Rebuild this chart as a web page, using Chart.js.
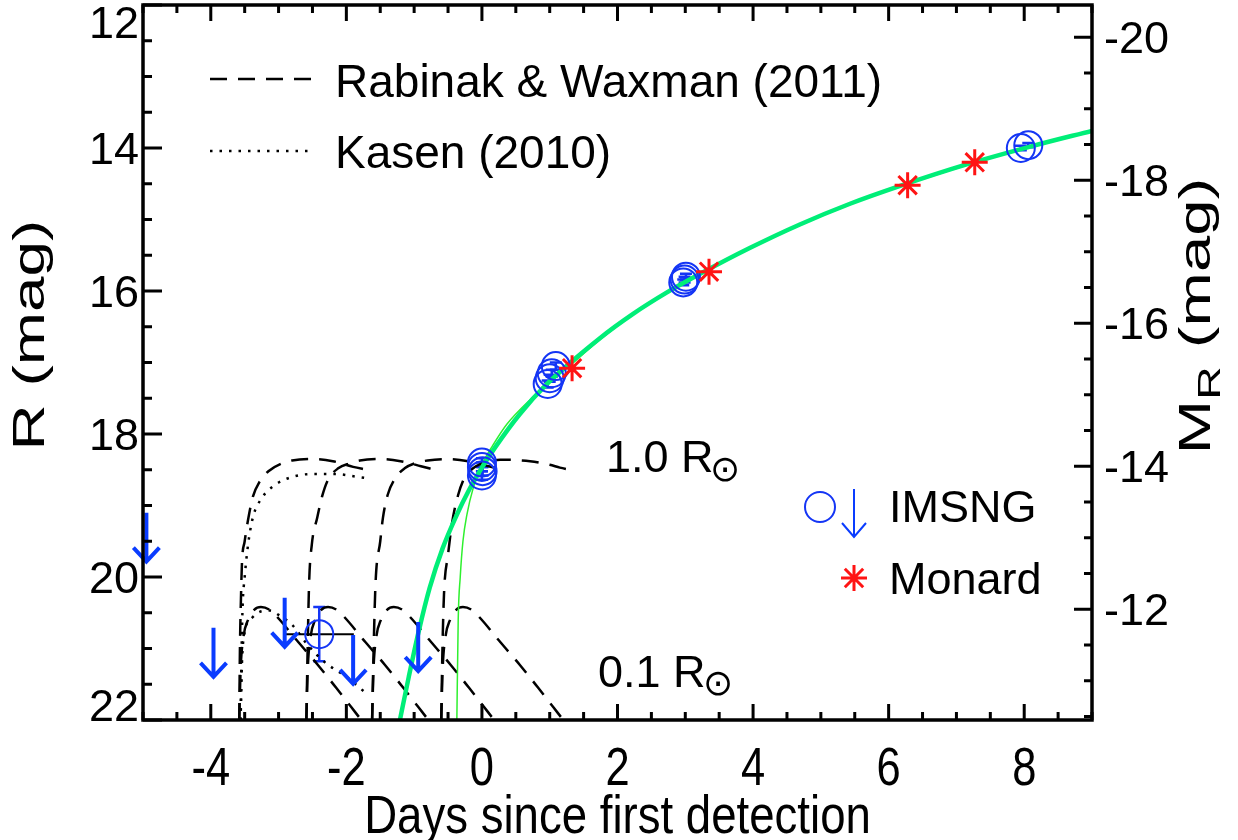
<!DOCTYPE html>
<html>
<head>
<meta charset="utf-8">
<title>R-band light curve</title>
<script src="https://cdn.jsdelivr.net/npm/chart.js@4.4.0/dist/chart.umd.min.js"></script>
<style>
  html, body { margin: 0; padding: 0; background: #fff; }
  #wrap { width: 1238px; height: 840px; }
</style>
</head>
<body>
<div id="wrap"><canvas id="lc" width="1238" height="840"></canvas></div>
<script>
// ---- data ----
// axis ticks
const xTickLabels = [-4, -2, 0, 2, 4, 6, 8];
const yTickLabels = [12, 14, 16, 18, 20, 22];
const absTickLabels = [-20, -18, -16, -14, -12];
const distMod = 32.45;

// IMSNG detections (days, R mag, error)
const imsngDays = [-2.40, 0.00, 0.00, 0.01, 0.00, 0.97, 1.00, 1.03, 1.09, 2.97, 2.99, 3.01, 7.95, 8.06];
const imsngMag  = [20.80, 18.40, 18.46, 18.52, 18.58, 17.30, 17.22, 17.15, 17.05, 15.88, 15.84, 15.80, 14.00, 13.96];
const imsngErr  = [0.38, 0.06, 0.06, 0.06, 0.06, 0.05, 0.05, 0.05, 0.05, 0.04, 0.04, 0.04, 0.03, 0.03];
const imsngDayErr = [0.51, 0, 0, 0, 0, 0, 0, 0, 0, 0, 0, 0, 0, 0];

// IMSNG upper limits
const limitDays = [-4.95, -3.96, -2.91, -1.90, -0.94];
const limitMag  = [19.10, 20.71, 20.29, 20.81, 20.63];

// Monard
const monardDays = [1.33, 3.35, 6.28, 7.27];
const monardMag  = [17.08, 15.73, 14.52, 14.20];

// fits (green)
const fitThick = [[-1.21, 22.0], [-1.08, 21.4], [-0.93, 20.75], [-0.77, 20.15], [-0.58, 19.6], [-0.37, 19.13],
  [-0.2, 18.8], [0.0, 18.47], [0.2, 18.18], [0.56, 17.72], [0.96, 17.3], [1.74, 16.66], [2.23, 16.32],
  [2.73, 16.02], [3.22, 15.76], [3.95, 15.4], [4.69, 15.07], [5.43, 14.78], [6.17, 14.53], [7.15, 14.23],
  [8.13, 13.97], [9.0, 13.76]];
const fitThin = [[-0.37, 22.0], [-0.35, 20.6], [-0.32, 20.0], [-0.28, 19.5], [-0.22, 19.12], [-0.13, 18.76],
  [0.0, 18.43], [0.16, 18.16], [0.37, 17.86], [0.71, 17.52], [0.96, 17.31], [1.4, 16.96], [1.74, 16.68],
  [2.23, 16.33], [2.73, 16.03], [3.22, 15.77], [3.95, 15.41], [4.69, 15.08], [5.43, 14.79], [6.17, 14.54],
  [7.15, 14.24], [8.13, 13.98], [9.0, 13.77]];

// Rabinak & Waxman, 1.0 Rsun
const rw10A = [[-3.58, 22.0], [-3.57, 21.0], [-3.555, 20.3], [-3.54, 19.8], [-3.5, 19.5], [-3.45, 19.2], [-3.38, 18.88],
  [-3.27, 18.65], [-3.15, 18.52], [-2.95, 18.41], [-2.8, 18.37], [-2.5, 18.35], [-2.2, 18.38], [-1.9, 18.46], [-1.7, 18.5]];
const rw10B = [[-2.59, 22.0], [-2.575, 21.2], [-2.55, 20.1], [-2.51, 19.55], [-2.43, 19.17], [-2.36, 18.88], [-2.27, 18.64],
  [-2.12, 18.48], [-1.95, 18.41], [-1.8, 18.37], [-1.5, 18.35], [-1.2, 18.38], [-0.9, 18.45], [-0.7, 18.5]];
const rw10C = [[-1.62, 22.0], [-1.6, 21.1], [-1.57, 20.1], [-1.5, 19.5], [-1.46, 19.17], [-1.39, 18.85], [-1.28, 18.62],
  [-1.14, 18.48], [-0.99, 18.41], [-0.8, 18.37], [-0.5, 18.35], [-0.2, 18.38], [0.1, 18.45], [0.3, 18.5]];
const rw10D = [[-0.6, 22.0], [-0.585, 21.13], [-0.56, 20.25], [-0.5, 19.69], [-0.44, 19.24], [-0.35, 18.85], [-0.25, 18.6],
  [-0.13, 18.48], [0.0, 18.41], [0.27, 18.36], [0.71, 18.38], [1.0, 18.43], [1.15, 18.47], [1.3, 18.5]];

// Rabinak & Waxman, 0.1 Rsun
const rw01A = [[-3.58, 22.0], [-3.56, 21.3], [-3.52, 20.85], [-3.45, 20.6], [-3.36, 20.46], [-3.26, 20.42], [-3.13, 20.46],
  [-3.01, 20.57], [-2.71, 20.91], [-2.42, 21.23], [-2.15, 21.55], [-1.87, 21.89], [-1.78, 22.0]];
const rw01B = [[-2.59, 22.0], [-2.57, 21.3], [-2.53, 20.85], [-2.46, 20.6], [-2.37, 20.46], [-2.27, 20.42], [-2.14, 20.46],
  [-2.02, 20.57], [-1.72, 20.91], [-1.43, 21.23], [-1.16, 21.55], [-0.88, 21.89], [-0.79, 22.0]];
const rw01C = [[-1.62, 22.0], [-1.6, 21.3], [-1.56, 20.85], [-1.49, 20.6], [-1.4, 20.46], [-1.3, 20.42], [-1.17, 20.46],
  [-1.05, 20.57], [-0.75, 20.91], [-0.46, 21.23], [-0.19, 21.55], [0.09, 21.89], [0.18, 22.0]];
const rw01D = [[-0.6, 22.0], [-0.58, 21.3], [-0.54, 20.85], [-0.47, 20.6], [-0.38, 20.46], [-0.28, 20.42], [-0.15, 20.46],
  [-0.03, 20.57], [0.27, 20.91], [0.56, 21.23], [0.83, 21.55], [1.11, 21.89], [1.2, 22.0]];

// Kasen (2010)
const kasenHigh = [[-3.56, 22.0], [-3.545, 21.0], [-3.53, 20.4], [-3.5, 20.0], [-3.45, 19.55], [-3.38, 19.17], [-3.25, 18.9],
  [-3.05, 18.71], [-2.8, 18.6], [-2.51, 18.56], [-2.17, 18.56], [-1.83, 18.6], [-1.68, 18.62]];
const kasenLow = [[-3.56, 22.0], [-3.54, 21.2], [-3.5, 20.77], [-3.39, 20.57], [-3.25, 20.48], [-3.12, 20.47], [-3.0, 20.53],
  [-2.8, 20.67], [-2.57, 20.95], [-2.32, 21.19], [-1.98, 21.41], [-1.68, 21.65]];

// ---- styling ----
const BLUE = '#1435f5';
const ARROW_BLUE = '#0a3cff';
const RED = '#ff1414';
const FONT = '"Liberation Sans", Arial, Helvetica, sans-serif';
const font = sz => `${sz}px ${FONT}`;

const pairs = arr => arr.map(p => ({ x: p[0], y: p[1] }));
const zip = (xs, ys) => xs.map((x, i) => ({ x: x, y: ys[i] }));

function modelLine(points, dash, order) {
    return {
        data: pairs(points),
        showLine: true,
        borderColor: '#000',
        borderWidth: 2.5,
        borderDash: dash,
        pointRadius: 0,
        cubicInterpolationMode: 'monotone',
        order: order
    };
}

const DASH = [17, 11];
const DOT = [2.5, 7];

// error bars, upper limits, frame, labels
const decorPlugin = {
    id: 'decor',
    beforeDraw(chart) {
        const ctx = chart.ctx;
        ctx.save();
        ctx.fillStyle = '#fff';
        ctx.fillRect(0, 0, chart.width, chart.height);
        ctx.restore();
    },
    beforeDatasetsDraw(chart) {
        const ctx = chart.ctx;
        const xs = chart.scales.x, ys = chart.scales.y;
        const area = chart.chartArea;
        ctx.save();
        ctx.beginPath();
        ctx.rect(area.left, area.top, area.right - area.left, area.bottom - area.top);
        ctx.clip();
        imsngDays.forEach((d, i) => {
            const px = xs.getPixelForValue(d);
            const py = ys.getPixelForValue(imsngMag[i]);
            if (imsngDayErr[i] > 0) {
                ctx.strokeStyle = '#000';
                ctx.lineWidth = 2;
                ctx.beginPath();
                ctx.moveTo(xs.getPixelForValue(d - imsngDayErr[i]), py);
                ctx.lineTo(xs.getPixelForValue(d + imsngDayErr[i]), py);
                ctx.stroke();
            }
            const p1 = ys.getPixelForValue(imsngMag[i] - imsngErr[i]);
            const p2 = ys.getPixelForValue(imsngMag[i] + imsngErr[i]);
            ctx.strokeStyle = BLUE;
            ctx.lineWidth = 2.5;
            ctx.beginPath();
            ctx.moveTo(px, p1); ctx.lineTo(px, p2);
            ctx.moveTo(px - 6, p1); ctx.lineTo(px + 6, p1);
            ctx.moveTo(px - 6, p2); ctx.lineTo(px + 6, p2);
            ctx.stroke();
        });
        ctx.restore();
    },
    afterDatasetsDraw(chart) {
        const ctx = chart.ctx;
        const xs = chart.scales.x, ys = chart.scales.y;
        ctx.save();
        ctx.strokeStyle = ARROW_BLUE;
        ctx.lineWidth = 4;
        ctx.lineCap = 'butt';
        limitDays.forEach((d, i) => {
            const px = xs.getPixelForValue(d);
            const top = ys.getPixelForValue(limitMag[i]);
            drawArrow(ctx, px, top, 49, 13, 14);
        });
        ctx.restore();
    },
    afterDraw(chart) {
        const ctx = chart.ctx;
        const area = chart.chartArea;
        const xs = chart.scales.x, ys = chart.scales.y, y2 = chart.scales.y2;
        ctx.save();

        // ticks
        ctx.strokeStyle = '#000';
        ctx.lineWidth = 3;
        ctx.beginPath();
        for (let v = -5; v <= 9.001; v += 0.5) {
            const px = xs.getPixelForValue(v);
            const major = Math.abs(v % 2) < 1e-6;
            const len = major ? 16 : 8;
            ctx.moveTo(px, area.bottom); ctx.lineTo(px, area.bottom - len);
            ctx.moveTo(px, area.top); ctx.lineTo(px, area.top + len);
        }
        for (let v = 12; v <= 22.001; v += 0.5) {
            const py = ys.getPixelForValue(v);
            const major = Math.abs(v % 2) < 1e-6;
            ctx.moveTo(area.left, py); ctx.lineTo(area.left + (major ? 19 : 9), py);
        }
        for (let v = -20; v <= -10.5; v += 0.5) {
            const py = y2.getPixelForValue(v);
            const major = Math.abs(v % 2) < 1e-6;
            ctx.moveTo(area.right, py); ctx.lineTo(area.right - (major ? 18 : 8), py);
        }
        ctx.stroke();

        // frame
        ctx.lineWidth = 3.5;
        ctx.strokeRect(area.left, area.top, area.right - area.left, area.bottom - area.top);

        // tick labels
        ctx.fillStyle = '#000';
        ctx.font = font(53);
        ctx.textAlign = 'center';
        ctx.textBaseline = 'alphabetic';
        xTickLabels.forEach(v => {
            narrowText(ctx, String(v), xs.getPixelForValue(v), 785, 0.82);
        });
        ctx.font = font(45);
        ctx.textAlign = 'right';
        yTickLabels.forEach(v => {
            let py = ys.getPixelForValue(v);
            py = Math.min(Math.max(py, area.top + 17), area.bottom - 15);
            ctx.fillText(String(v), 139, py + 16);
        });
        ctx.textAlign = 'left';
        absTickLabels.forEach(v => {
            ctx.fillText(String(v), 1104, y2.getPixelForValue(v) + 16);
        });

        // axis titles
        ctx.font = font(53);
        ctx.textAlign = 'center';
        narrowText(ctx, 'Days since first detection', (area.left + area.right) / 2, 833, 0.86);

        ctx.font = font(45);
        ctx.save();
        ctx.translate(44, 335);
        ctx.rotate(-Math.PI / 2);
        ctx.scale(1.42, 1);
        ctx.fillText('R (mag)', 0, 0);
        ctx.restore();

        ctx.save();
        ctx.translate(1210, 316);
        ctx.rotate(-Math.PI / 2);
        ctx.scale(1.45, 1);
        ctx.textAlign = 'left';
        ctx.font = font(45);
        const wM = ctx.measureText('M').width;
        const wRest = ctx.measureText(' (mag)').width;
        ctx.font = font(32);
        const wSub = ctx.measureText('R').width;
        const x0 = -(wM + wSub + wRest) / 2;
        ctx.font = font(45);
        ctx.fillText('M', x0, 0);
        ctx.font = font(32);
        ctx.fillText('R', x0 + wM, 10);
        ctx.font = font(45);
        ctx.fillText(' (mag)', x0 + wM + wSub, 0);
        ctx.restore();

        // legend, upper left
        ctx.lineWidth = 2.5;
        ctx.setLineDash(DASH);
        ctx.beginPath(); ctx.moveTo(210, 79); ctx.lineTo(313, 79); ctx.stroke();
        ctx.setLineDash(DOT);
        ctx.beginPath(); ctx.moveTo(210, 151); ctx.lineTo(313, 151); ctx.stroke();
        ctx.setLineDash([]);
        ctx.font = font(46);
        ctx.textAlign = 'left';
        ctx.textBaseline = 'alphabetic';
        ctx.fillText('Rabinak & Waxman (2011)', 335, 97);
        ctx.fillText('Kasen (2010)', 335, 168);

        // legend, lower right
        ctx.strokeStyle = BLUE;
        ctx.lineWidth = 2;
        ctx.beginPath(); ctx.arc(820, 507, 15, 0, Math.PI * 2); ctx.stroke();
        ctx.strokeStyle = ARROW_BLUE;
        drawArrow(ctx, 854, 489, 48, 12, 14);
        drawStar(ctx, 854, 578, 13, RED, 3);
        ctx.fillStyle = '#000';
        ctx.font = font(45);
        ctx.fillText('IMSNG', 889, 522);
        ctx.fillText('Monard', 889, 594);

        // model labels
        ctx.fillText('1.0 R', 606, 472);
        ctx.fillText('0.1 R', 598, 687);
        ctx.font = '36px "DejaVu Sans", sans-serif';
        ctx.textAlign = 'center';
        ctx.textBaseline = 'middle';
        ctx.fillText('\u2299', 725, 472);
        ctx.fillText('\u2299', 718, 686);

        ctx.restore();
    }
};

function narrowText(ctx, str, x, y, sx) {
    ctx.save();
    ctx.translate(x, y);
    ctx.scale(sx, 1);
    ctx.fillText(str, 0, 0);
    ctx.restore();
}

function drawArrow(ctx, x, top, len, half, head) {
    const tip = top + len;
    ctx.beginPath();
    ctx.moveTo(x, top); ctx.lineTo(x, tip);
    ctx.moveTo(x - half, tip - head); ctx.lineTo(x, tip); ctx.lineTo(x + half, tip - head);
    ctx.stroke();
}

function drawStar(ctx, x, y, r, color, w) {
    ctx.save();
    ctx.strokeStyle = color;
    ctx.lineWidth = w;
    ctx.beginPath();
    for (let k = 0; k < 4; k++) {
        const a = k * Math.PI / 4;
        ctx.moveTo(x - r * Math.cos(a), y - r * Math.sin(a));
        ctx.lineTo(x + r * Math.cos(a), y + r * Math.sin(a));
    }
    ctx.stroke();
    ctx.restore();
}

const datasets = [
    modelLine(rw10A, DASH, 6), modelLine(rw10B, DASH, 6), modelLine(rw10C, DASH, 6), modelLine(rw10D, DASH, 6),
    modelLine(rw01A, DASH, 6), modelLine(rw01B, DASH, 6), modelLine(rw01C, DASH, 6), modelLine(rw01D, DASH, 6),
    modelLine(kasenHigh, DOT, 6), modelLine(kasenLow, DOT, 6),
    {
        data: pairs(fitThin), showLine: true, borderColor: '#2ef02e', borderWidth: 1.5,
        pointRadius: 0, cubicInterpolationMode: 'monotone', order: 4
    },
    {
        data: pairs(fitThick), showLine: true, borderColor: '#00ee78', borderWidth: 4.5,
        pointRadius: 0, cubicInterpolationMode: 'monotone', order: 3
    },
    {
        data: zip(imsngDays, imsngMag), showLine: false, pointStyle: 'circle', pointRadius: 14,
        pointBorderWidth: 2, pointBorderColor: BLUE, pointBackgroundColor: 'rgba(0,0,0,0)', order: 2
    },
    {
        data: zip(monardDays, monardMag), showLine: false, pointStyle: 'star', pointRadius: 13,
        pointBorderWidth: 3, pointBorderColor: RED, pointBackgroundColor: RED, order: 1
    }
];

new Chart(document.getElementById('lc'), {
    type: 'scatter',
    data: { datasets: datasets },
    options: {
        responsive: false,
        devicePixelRatio: 1,
        animation: false,
        events: [],
        layout: { autoPadding: false, padding: { left: 143, right: 146, top: 5, bottom: 120 } },
        plugins: { legend: { display: false }, tooltip: { enabled: false } },
        scales: {
            x: { type: 'linear', min: -5, max: 9, display: false },
            y: { type: 'linear', min: 12, max: 22, reverse: true, display: false },
            y2: { type: 'linear', min: 12 - distMod, max: 22 - distMod, reverse: true, display: false, position: 'right' }
        }
    },
    plugins: [decorPlugin]
});
</script>
</body>
</html>
